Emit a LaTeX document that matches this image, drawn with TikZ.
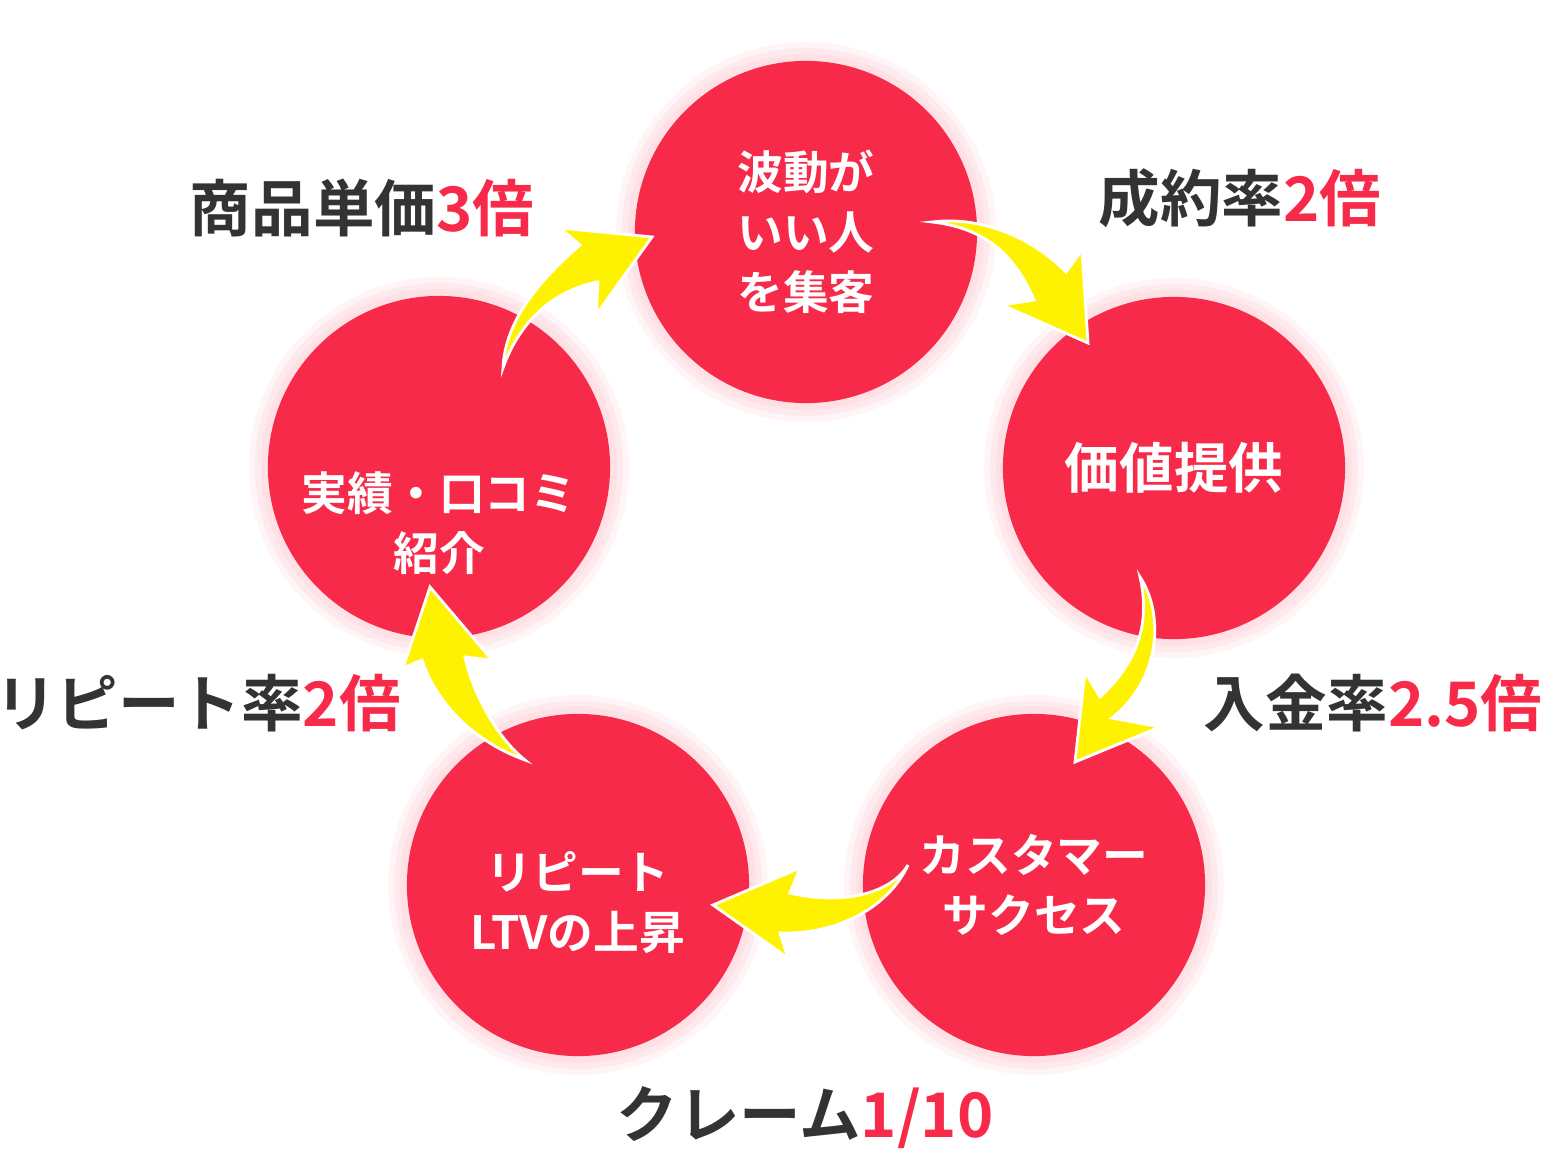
\documentclass[tikz,border=0pt]{standalone}
\usepackage{fontspec}
\setmainfont{Noto Sans CJK JP}[BoldFont={Noto Sans CJK JP Bold}]
\usepackage{tikz}
\definecolor{cred}{HTML}{F72A4A}
\definecolor{cdark}{HTML}{333333}
\definecolor{cyel}{HTML}{FFF200}
\tikzset{
  stage/.style={circle, fill=cred, minimum size=3.42cm, inner sep=0pt},
  stagetext/.style={text=white, font=\bfseries\fontsize{13}{17}\selectfont, align=center},
  rate/.style={text=cdark, font=\bfseries\fontsize{17.5}{20}\selectfont},
  arr/.style={fill=cyel, draw=white, line width=0.8pt, line join=miter}
}
\newcommand{\hl}[1]{\textcolor{cred}{#1}}
\begin{document}
\begin{tikzpicture}[x=0.01cm, y=-0.01cm]

    \useasboundingbox (0,0) rectangle (1557,1155);

    % glow
    \foreach \p in {(806,232),(1174,468),(1034,885),(578,885),(439,467)} {
        \foreach \r in {190,184,178} {
            \fill[cred, opacity=0.05] \p circle [radius=\r];
        }
    }

    \node[stage] (top) at (806,232) {};
    \node[stage] (right) at (1174,468) {};
    \node[stage] (brt) at (1034,885) {};
    \node[stage] (blt) at (578,885) {};
    \node[stage] (left) at (439,467) {};

    \node[stagetext] at (top) {波動が\\いい人\\を集客};
    \node[stagetext, font=\bfseries\fontsize{15.5}{18}\selectfont] at (right) {価値提供};
    \node[stagetext] at (brt) {カスタマー\\サクセス};
    \node[stagetext] at ([yshift=-5]blt) {リピート\\LTVの上昇};
    \node[stagetext] at ([yshift=-16]left) {実績・口コミ\\紹介};

    % arrows
    \draw[arr] (932,222) .. controls (990,215) and (1040,245) .. (1066,272) -- (1082,250) -- (1088,343) -- (1002,305) -- (1034,300) .. controls (1015,255) and (985,228) .. cycle;
    \draw[arr] (1140,577) .. controls (1165,615) and (1160,680) .. (1112,718) -- (1160,727) -- (1075,762) -- (1085,672) -- (1100,697) .. controls (1140,660) and (1150,620) .. cycle;
    \draw[arr] (908,865) .. controls (890,905) and (840,935) .. (780,933) -- (788,958) -- (713,905) -- (800,868) -- (790,893) .. controls (840,905) and (890,895) .. cycle;
    \draw[arr] (525,760) .. controls (470,740) and (435,700) .. (422,660) -- (403,668) -- (430,587) -- (492,660) -- (465,657) .. controls (475,700) and (500,740) .. cycle;
    \draw[arr] (503,368) .. controls (505,320) and (540,280) .. (580,245) -- (560,228) -- (652,237) -- (596,315) -- (598,282) .. controls (555,290) and (520,320) .. cycle;

    \node[rate] (r1) at (362,208) {商品単価\hl{3倍}};
    \node[rate] (r2) at (1240,198) {成約率\hl{2倍}};
    \node[rate] (r3) at (1373,703) {入金率\hl{2.5倍}};
    \node[rate] (r4) at (198,703) {リピート率\hl{2倍}};
    \node[rate] (r5) at (805,1118) {クレーム\hl{1/10}};

\end{tikzpicture}
\end{document}
